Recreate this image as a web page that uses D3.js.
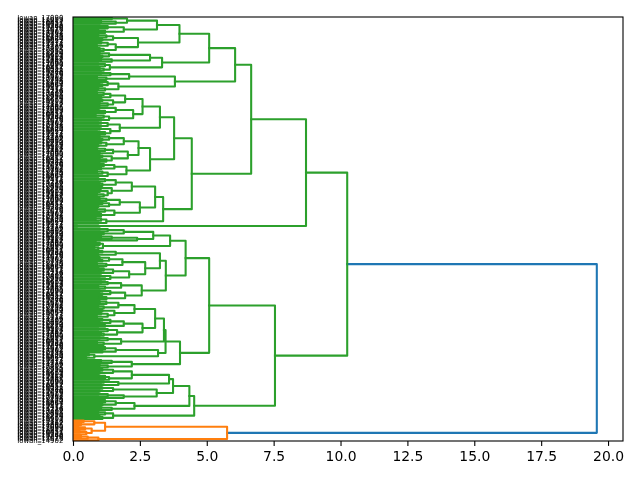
<!DOCTYPE html>
<html>
<head>
<meta charset="utf-8">
<script src="https://cdn.jsdelivr.net/npm/d3@7/dist/d3.min.js"></script>
<style>
  body { margin: 0; background: #fff; }
  svg { display: block; font-family: "DejaVu Sans", sans-serif; }
  .leafLabels { will-change: transform; -webkit-font-smoothing: antialiased; }
</style>
</head>
<body>
<div class="d3Container"></div>
<script>
// merge heights, node = [height, upper child, lower child], leaf = 0
const J1 = [2.02, [1.45, 0, 0], [1.6, [1.05, 0, 0], 0]]
const J2 = [1.9, [1.3, [1.0, 0, 0], 0], [1.2, [0.95, 0, 0], 0]]
const H2 = [2.43, [1.5, [1.25, [0.95, 0, 0], 0], [1.1, 0, 0]], [1.6, [1.3, [1.05, 0, 0], [0.9, 0, 0]], [1.15, [1.0, 0, 0], 0]]]
const I1 = [2.88, [1.35, [1.0, 0, 0], [1.1, 0, 0]], [1.45, [1.05, 0, 0], 0]]
const I2 = [1.38, [1.2, [0.95, 0, 0], 0], [1.15, [1.0, 0, 0], 0]]
const G1 = [2.1, [1.4, [1.05, 0, 0], 0], [1.25, [0.9, 0, 0], 0]]
const G2 = [1.7, [1.3, [1.0, 0, 0], [1.1, 0, 0]], [1.2, [0.95, 0, 0], 0]]
const E1a_uu = [1.95, [1.4, [1.15, [0.9, 0, 0], 0], [1.05, 0, 0]], [1.5, [1.1, 0, 0], [1.3, [1.0, 0, 0], 0]]]
const E1a_ul = [2.25, [1.6, [1.0, 0, 0], [1.2, [0.95, 0, 0], 0]], [1.35, [1.15, [0.85, 0, 0], 0], [1.05, 0, 0]]]
const E1a_l = [1.75, [1.3, [0.95, 0, 0], [1.05, 0, 0]], [1.4, [1.0, 0, 0], [1.2, [0.9, 0, 0], 0]]]
const E1b_uu = [1.9, [1.35, [1.0, 0, 0], [1.1, 0, 0]], [1.25, [1.05, 0, 0], [0.95, 0, 0]]]
const E1b_ul = [2.05, [1.5, [1.2, [0.9, 0, 0], 0], [1.0, 0, 0]], [1.45, [1.1, 0, 0], [1.25, [1.0, 0, 0], 0]]]
const E1b_l = [2.0, [1.55, [1.15, [1.0, 0, 0], 0], [1.05, 0, 0]], [1.3, [1.1, [0.9, 0, 0], 0], [0.95, 0, 0]]]
const E2a_u = [2.2, [1.6, [1.2, [0.95, 0, 0], 0], [1.1, [1.0, 0, 0], 0]], [1.45, [1.05, 0, 0], [1.3, [1.0, 0, 0], [1.15, [0.9, 0, 0], 0]]]]
const E2a_l = [2.5, [1.75, [1.25, [1.0, 0, 0], 0], [1.35, [1.1, 0, 0], [0.95, 0, 0]]], [1.55, [1.2, [0.9, 0, 0], 0], [1.05, [1.0, 0, 0], 0]]]
const E2b = [1.25, [1.05, [0.85, 0, 0], 0], [0.95, 0, 0]]
const C_pair = [0.15, 0, 0]
const K1a_uu = [3.0, [1.9, [1.3, [1.0, 0, 0], 0], [1.15, 0, 0]], [2.4, [1.45, [1.05, 0, 0], 0], 0]]
const K1a_ul = [1.12, [1.0, [0.85, 0, 0], 0], [0.95, [0.8, 0, 0], 0]]
const K1a_luu = [1.6, [1.1, 0, 0], [0.95, 0, 0]]
const K1a_lul = [2.7, [1.85, [1.35, [1.0, 0, 0], [1.1, 0, 0]], [1.25, [0.9, 0, 0], 0]], [2.1, [1.5, [1.15, [0.95, 0, 0], 0], [1.05, 0, 0]], [1.4, [1.0, 0, 0], [1.2, 0, 0]]]]
const K1a_ll = [2.57, [1.8, [1.3, [1.05, 0, 0], 0], [1.2, [0.95, 0, 0], 0]], [1.95, [1.4, [1.0, 0, 0], [1.1, 0, 0]], [1.25, [0.9, 0, 0], 0]]]
const P1 = [2.3, [1.7, [1.25, [1.0, 0, 0], 0], [1.15, [0.95, 0, 0], 0]], [1.55, [1.1, 0, 0], [1.3, [1.05, 0, 0], [0.9, 0, 0]]]]
const P2 = [2.6, [1.9, [1.4, [1.1, 0, 0], [1.0, 0, 0]], [1.2, 0, 0]], [1.65, [1.3, [0.95, 0, 0], 0], [1.15, [1.05, 0, 0], 0]]]
const Ql = [1.8, [1.3, [1.0, 0, 0], 0], [1.15, [0.9, 0, 0], 0]]
const Rl = [3.18, [1.6, [1.2, [1.0, 0, 0], 0], [1.1, 0, 0]], [0.8, [0.6, 0, 0], [0.5, 0, 0]]]
const K1b_l = [2.2, [1.45, [1.05, 0, 0], 0], [1.3, [1.0, 0, 0], 0]]
const K2a_uu = [3.59, [2.2, [1.5, [1.1, 0, 0], [1.0, 0, 0]], [1.35, [1.2, [0.95, 0, 0], 0], 0]], [1.7, [1.15, 0, 0], [1.05, 0, 0]]]
const K2a_ul = [3.13, [1.5, [1.1, 0, 0], [1.0, 0, 0]], [1.9, [1.3, [0.95, 0, 0], 0], 0]]
const K2a_l = [2.3, [1.6, [1.2, [1.0, 0, 0], 0], [1.1, 0, 0]], [1.45, [1.05, 0, 0], 0]]
const K2b = [1.5, [1.2, [0.95, 0, 0], 0], [1.1, [1.0, 0, 0], 0]]
const O1u = [0.8, [0.4, 0, 0], [0.3, 0, 0]]
const O1l = [0.7, [0.45, [0.2, 0, 0], 0], [0.5, [0.25, 0, 0], 0]]
const O2 = [0.95, [0.55, [0.3, 0, 0], 0], 0]

// upper levels of the tree
const H_ = [3.98, [3.14, J1, J2], H2]
const F_ = [5.09, H_, [3.33, I1, I2]]
const D_ = [6.06, F_, [3.81, G1, G2]]
const E1 = [3.78, [3.25, [2.6, E1a_uu, E1a_ul], E1a_l], [2.88, [2.45, E1b_uu, E1b_ul], E1b_l]]
const E_ = [4.44, E1, [3.37, [3.07, E2a_u, E2a_l], E2b]]
const A_ = [8.71, [6.66, D_, E_], C_pair]
const K1a = [4.21, [3.63, K1a_uu, K1a_ul], [3.47, [3.25, K1a_luu, K1a_lul], K1a_ll]]
const K1b = [4.0, [3.46, [3.4, [3.07, P1, P2], Ql], Rl], K1b_l]
const K2 = [4.53, [4.35, [3.74, K2a_uu, K2a_ul], K2a_l], K2b]
const greenTop = [10.25, A_, [7.55, [5.09, K1a, K1b], K2]]
const orangeBottom = [5.76, [1.2, O1u, O1l], O2]
const root = [19.58, greenTop, orangeBottom]

const labelPrefix = "Iowan"
const labelIds = [17090, 11093, 18812, 10457, 16021, 13388, 19240, 12076, 15513, 14902,
  17761, 10938, 18145, 11620, 16884, 13057, 19573, 12411, 15226, 14339,
  17402, 10815, 18990, 11274, 16659, 13901, 19118, 12862, 15747, 14065]
const xTicks = [0, 2.5, 5, 7.5, 10, 12.5, 15, 17.5, 20]
const palette = ["#ff7f0e", "#2ca02c", "#d62728", "#9467bd"]
const aboveColor = "#1f77b4"

const W = 640, H = 480
const margin = { top: 17, right: 17, bottom: 39, left: 73 }
const plotW = W - margin.left - margin.right
const plotH = H - margin.top - margin.bottom

let leafCount = 0
function build(node) {
    if (node === 0) return { h: 0, leaf: leafCount++ }
    return { h: node[0], kids: [build(node[1]), build(node[2])] }
}
const tree = build(root)
const nLeaves = leafCount
const maxH = tree.h

var x = d3.scaleLinear().domain([0, maxH * 1.05]).range([0, plotW])
var y = d3.scaleLinear().domain([0, nLeaves]).range([0, plotH])

function place(n) {
    if (n.kids) {
        n.kids.forEach(place)
        n.y = (n.kids[0].y + n.kids[1].y) / 2
    } else {
        n.y = y(n.leaf + 0.5)
    }
}
place(tree)

// scipy style colouring: clusters under 0.7 * max height keep one colour
function paint(n, col) {
    n.color = col
    if (n.kids) n.kids.forEach(k => paint(k, col))
}
const threshold = 0.7 * maxH
const clusterRoots = []
function findClusters(n) {
    if (!n.kids) return
    if (n.h <= threshold) { clusterRoots.push(n); return }
    n.kids.forEach(findClusters)
}
findClusters(tree)
clusterRoots.reverse().forEach((c, i) => paint(c, palette[i % palette.length]))

const links = [], leaves = []
function collect(n) {
    if (!n.kids) { leaves.push(n); return }
    links.push(n)
    n.kids.forEach(collect)
}
collect(tree)

var svg = d3.select(".d3Container").append("svg")
    .attr("width", W)
    .attr("height", H)

svg.append("rect").attr("width", W).attr("height", H).style("fill", "#fff")

svg.append("defs").append("clipPath").attr("id", "plotClip")
    .append("rect").attr("width", plotW).attr("height", plotH)

var g = svg.append("g")
    .attr("transform", "translate(" + margin.left + "," + margin.top + ")")

g.append("g")
    .attr("clip-path", "url(#plotClip)")
    .selectAll("path")
    .data(links)
    .enter()
    .append("path")
    .attr("d", n => {
        const a = n.kids[0], b = n.kids[1]
        return "M" + x(a.h) + "," + a.y + "H" + x(n.h) + "V" + b.y + "H" + x(b.h)
    })
    .style("fill", "none")
    .style("stroke", n => n.color || aboveColor)
    .style("stroke-width", 2.08)
    .style("stroke-linejoin", "round")
    .style("stroke-linecap", "square")

// leaf labels, tick marks hidden like scipy does
g.append("g")
    .attr("class", "leafLabels")
    .attr("opacity", 0.999)
    .selectAll("text")
    .data(leaves)
    .enter()
    .append("text")
    .attr("x", -9.7)
    .attr("y", d => d.y)
    .attr("dy", "0.35em")
    .attr("text-anchor", "end")
    .style("font-size", "6.94px")
    .style("fill", "#000")
    .text(d => labelPrefix + "_" + labelIds[d.leaf % labelIds.length])

var xAxis = g.append("g")
    .attr("transform", "translate(0," + plotH + ")")
    .call(d3.axisBottom(x).tickValues(xTicks).tickFormat(d3.format(".1f"))
        .tickSize(4.9).tickPadding(4.9).tickSizeOuter(0))
xAxis.select(".domain").remove()
xAxis.attr("font-family", "DejaVu Sans").attr("font-size", 13.9)
xAxis.selectAll("line").style("stroke", "#000").style("stroke-width", 1.1)
xAxis.selectAll("text").style("fill", "#000")

g.append("rect")
    .attr("width", plotW)
    .attr("height", plotH)
    .style("fill", "none")
    .style("stroke", "#000")
    .style("stroke-width", 1.1)
</script>
</body>
</html>
